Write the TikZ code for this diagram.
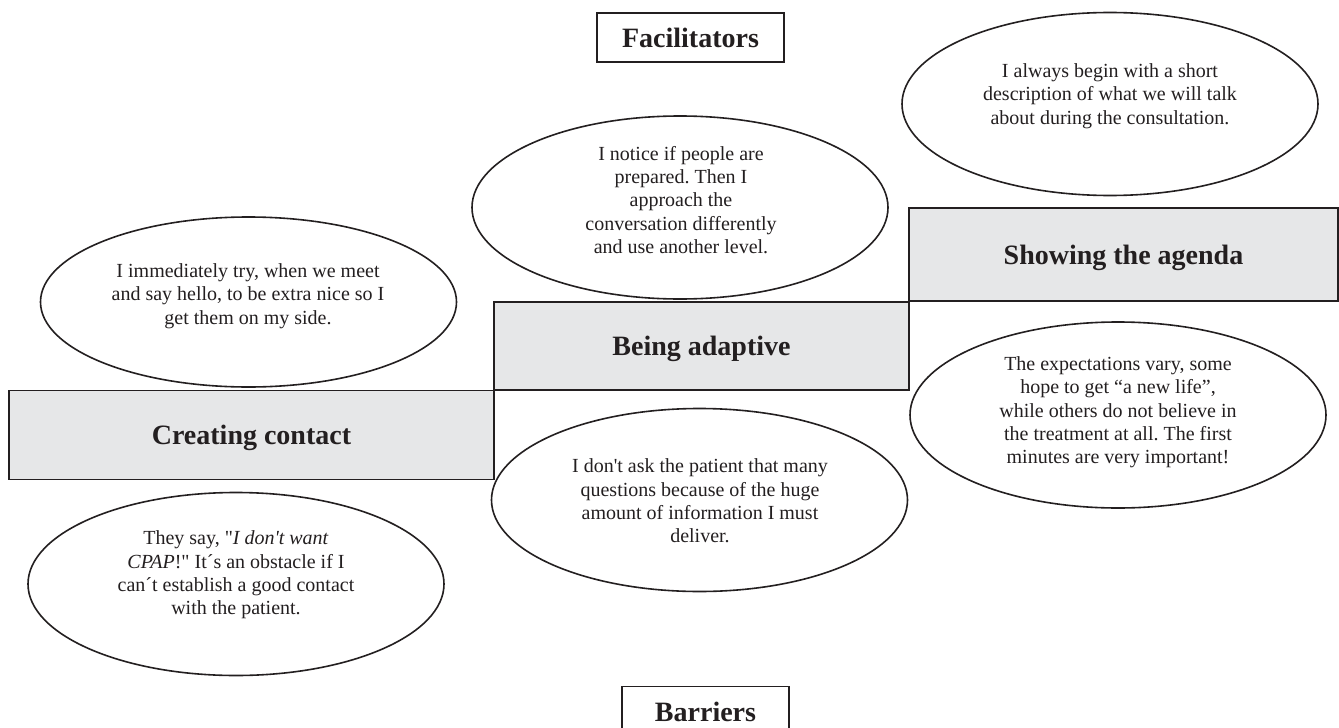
\documentclass[tikz,border=0pt]{standalone}
\usepackage{fontspec}
\setmainfont{Liberation Serif}
\usetikzlibrary{shapes.geometric}
\frenchspacing
\definecolor{linec}{HTML}{231F20}
\definecolor{txt}{HTML}{231F20}
\definecolor{boxgray}{HTML}{E6E7E8}
\tikzset{
  ell/.style={ellipse, draw=linec, line width=1.6pt, fill=white, minimum width=416pt, minimum height=183pt, inner sep=0pt},
  quote/.style={align=center, font=\fontsize{20}{23.3}\selectfont, text=txt, inner sep=0pt},
  cat/.style={draw=linec, line width=1.3pt, fill=boxgray, font=\fontsize{28}{32}\selectfont\bfseries, text=txt, text height=19pt, text depth=0pt, inner sep=0pt},
  head/.style={draw=linec, line width=1.3pt, fill=white, font=\fontsize{28}{32}\selectfont\bfseries, text=txt, text height=19pt, text depth=0pt, inner sep=0pt}
}
\begin{document}
\frenchspacing
\begin{tikzpicture}[x=1pt,y=-1pt]
\clip (0,0) rectangle (1339,728);
\fill[white] (0,0) rectangle (1339,728);
% category boxes
\node[cat, minimum width=485pt, minimum height=89pt] (contact) at (251.5,435) {Creating contact};
\node[cat, minimum width=415pt, minimum height=88pt] (adaptive) at (701.5,346) {Being adaptive};
\node[cat, minimum width=429pt, minimum height=93pt] (agenda) at (1123.5,254.5) {Showing the agenda};
% headers
\node[head, minimum width=187pt, minimum height=49pt] (facil) at (690.5,37.5) {Facilitators};
\node[head, minimum width=167pt, minimum height=60pt, text depth=10pt, anchor=north] (barriers) at (705.5,686) {Barriers};
% ellipses
\node[ell] (e1) at (680,207.5) {};
\node[ell, minimum height=170pt] (e2) at (248.5,302) {};
\node[ell] (e3) at (236,584) {};
\node[ell] (e4) at (699.5,500) {};
\node[ell] (e5) at (1110,104) {};
\node[ell, minimum height=186pt] (e6) at (1118,415) {};
% quotes
\node[quote] (t1) at (681,200) {I notice if people are\\prepared. Then I\\approach the\\conversation differently\\and use another level.};
\node[quote] (t2) at (248,296) {I immediately try, when we meet\\and say hello, to be extra nice so I\\get them on my side.};
\node[quote] (t3) at (236,575) {They say, \textquotedbl\textit{I don\textquotesingle t want}\\\textit{CPAP}!\textquotedbl{} It´s an obstacle if I\\can´t establish a good contact\\with the patient.};
\node[quote] (t4) at (700,501) {I don\textquotesingle t ask the patient that many\\questions because of the huge\\amount of information I must\\deliver.};
\node[quote] (t5) at (1110,96) {I always begin with a short\\description of what we will talk\\about during the consultation.};
\node[quote] (t6) at (1118,412.5) {The expectations vary, some\\hope to get “a new life”,\\while others do not believe in\\the treatment at all. The first\\minutes are very important!};
\end{tikzpicture}
\end{document}
